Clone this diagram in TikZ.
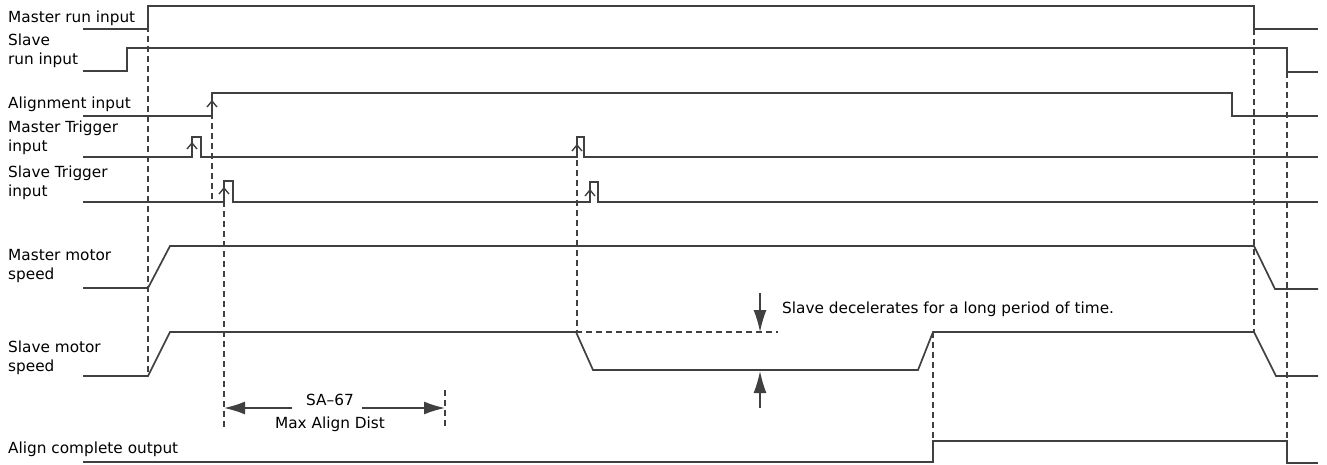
\documentclass[tikz,border=0pt]{standalone}
\usepackage{fontspec}
\setmainfont{DejaVu Sans}
\usetikzlibrary{arrows.meta}
\definecolor{ln}{HTML}{404040}
\tikzset{
  sig/.style={draw=ln, line width=1.7pt, line join=miter},
  dsh/.style={draw=ln, line width=1.4pt, dash pattern=on 6pt off 4pt},
  lbl/.style={anchor=base west, inner sep=0pt, font=\fontsize{15.3}{19}\selectfont, align=left},
  txt/.style={inner sep=0pt, font=\fontsize{15.3}{19}\selectfont},
  caret/.style={draw=ln, line width=1.4pt},
  bigarr/.style={draw=ln, line width=1.5pt, -{Latex[length=21pt,width=13pt]}},
  smarr/.style={draw=ln, line width=1.5pt, -{Latex[length=22pt,width=13pt]}}
}
\begin{document}
\begin{tikzpicture}[x=1pt,y=-1pt]
\useasboundingbox (0,0) rectangle (1327,464);
% labels (base anchor = baseline of last line)
\node[lbl] (l1) at (8,22) {Master run input};
\node[lbl] (l2) at (8,64) {Slave\\run input};
\node[lbl] (l3) at (8,108) {Alignment input};
\node[lbl] (l4) at (8,151) {Master Trigger\\input};
\node[lbl] (l5) at (8,196) {Slave Trigger\\input};
\node[lbl] (l6) at (8,279) {Master motor\\speed};
\node[lbl] (l7) at (8,371) {Slave motor\\speed};
\node[lbl] (l8) at (8,453) {Align complete output};
% waveforms
\draw[sig] (83,29) -- (148,29) -- (148,6) -- (1254,6) -- (1254,29) -- (1318,29);
\draw[sig] (83,71) -- (127,71) -- (127,48) -- (1287,48) -- (1287,72) -- (1318,72);
\draw[sig] (83,116) -- (212,116) -- (212,93) -- (1232,93) -- (1232,116) -- (1318,116);
\draw[sig] (83,157) -- (192,157) -- (192,137) -- (201,137) -- (201,157) -- (577,157) -- (577,137) -- (584,137) -- (584,157) -- (1318,157);
\draw[sig] (83,202) -- (224,202) -- (224,181) -- (233,181) -- (233,202) -- (590,202) -- (590,182) -- (598,182) -- (598,202) -- (1318,202);
\draw[sig] (83,288) -- (148,288) -- (170,246) -- (1254,246) -- (1275,289) -- (1318,289);
\draw[sig] (83,376) -- (148,376) -- (170,332) -- (576,332) -- (593,370) -- (918,370) -- (933,332) -- (1254,332) -- (1276,376) -- (1318,376);
\draw[sig] (83,462) -- (933,462) -- (933,441) -- (1287,441) -- (1287,463) -- (1318,463);
% carets at rising edges
\draw[caret] (207,107) -- (212,101) -- (217,107);
\draw[caret] (187,149) -- (192,143) -- (197,149);
\draw[caret] (572,151) -- (577,145) -- (582,151);
\draw[caret] (219,194) -- (224,188) -- (229,194);
\draw[caret] (585,196) -- (590,190) -- (595,196);
% dashed guides
\draw[dsh] (148,6) -- (148,376);
\draw[dsh] (212,93) -- (212,202);
\draw[dsh] (224,181) -- (224,427);
\draw[dsh] (445,390) -- (445,427);
\draw[dsh] (577,140) -- (577,332);
\draw[dsh] (933,332) -- (933,441);
\draw[dsh] (1254,29) -- (1254,332);
\draw[dsh] (1287,72) -- (1287,441);
\draw[dsh] (576,332) -- (778,332);
% Max align dist
\coordinate (mL) at (224,408);
\coordinate (mR) at (445,408);
\coordinate (mLs) at (292,408);
\coordinate (mRs) at (362,408);
\draw[bigarr] (mLs) -- (mL);
\draw[bigarr] (mRs) -- (mR);
\node[txt, anchor=base] (sa) at (330,405) {SA–67};
\node[txt, anchor=base] (mad) at (330,428) {Max Align Dist};
% slave decelerates
\coordinate (dT) at (760,293);
\coordinate (dM) at (760,332);
\coordinate (uB) at (760,408);
\coordinate (uM) at (760,371);
\draw[smarr] (dT) -- (dM);
\draw[smarr] (uB) -- (uM);
\node[txt, anchor=base west] (sd) at (782,313) {Slave decelerates for a long period of time.};
\end{tikzpicture}
\end{document}
